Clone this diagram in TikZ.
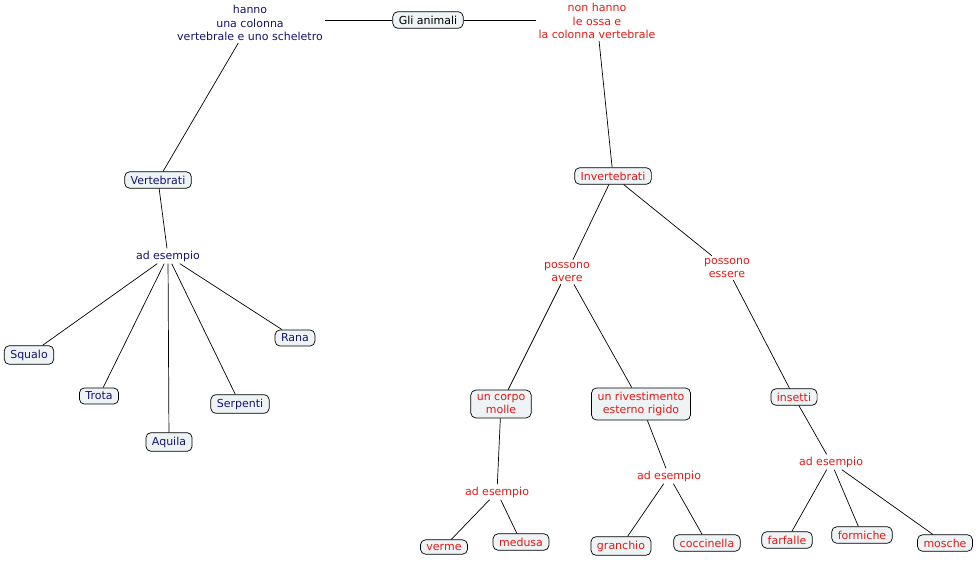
\documentclass[tikz,border=0pt]{standalone}
\usepackage{fontspec}
\setmainfont{DejaVu Sans}
\begin{document}
\begin{tikzpicture}[x=1pt,y=-1pt,
 every node/.style={font=\fontsize{11}{13.5}\selectfont,align=center,inner sep=2pt},
 box/.style={draw=black,fill={rgb,255:red,238;green,243;blue,246},rounded corners=5pt,inner xsep=6pt,inner ysep=4pt},
 nv/.style={text={rgb,255:red,20;green,20;blue,110}},
 rd/.style={text={rgb,255:red,230;green,25;blue,20}},
 every path/.style={line width=0.7pt}]
\useasboundingbox (0,0) rectangle (980,562);
\node[box] (gli) at (428,20) {Gli animali};
\node[nv] (hanno) at (250,23) {hanno\\una colonna\\vertebrale e uno scheletro};
\node[rd] (non) at (597,21) {non hanno\\le ossa e\\la colonna vertebrale};
\node[box,nv] (vert) at (158,180) {Vertebrati};
\node[nv] (ade1) at (168,256) {ad esempio};
\node[box,nv] (squalo) at (29,355) {Squalo};
\node[box,nv] (trota) at (99,396) {Trota};
\node[box,nv] (aquila) at (169,442) {Aquila};
\node[box,nv] (serp) at (240,404) {Serpenti};
\node[box,nv] (rana) at (295,338) {Rana};
\node[box,rd] (inv) at (613,176) {Invertebrati};
\node[rd] (pav) at (567,272) {possono\\avere};
\node[rd] (pes) at (727,268) {possono\\essere};
\node[box,rd] (molle) at (501,404) {un corpo\\molle};
\node[box,rd] (riv) at (641,404) {un rivestimento\\esterno rigido};
\node[box,rd] (ins) at (794,397) {insetti};
\node[rd] (ade2) at (497,492) {ad esempio};
\node[rd] (ade3) at (669,476) {ad esempio};
\node[rd] (ade4) at (831,462) {ad esempio};
\node[box,rd] (verme) at (444,547) {verme};
\node[box,rd] (medusa) at (521,542) {medusa};
\node[box,rd] (gran) at (621,546) {granchio};
\node[box,rd] (cocc) at (707,543) {coccinella};
\node[box,rd] (farf) at (787,540) {farfalle};
\node[box,rd] (form) at (862,535) {formiche};
\node[box,rd] (mosc) at (945,543) {mosche};
\draw (gli) -- (hanno.east|-gli) ;
\draw (gli) -- (non.west|-gli);
\draw (hanno) -- (vert);
\draw (vert) -- (ade1);
\foreach \n in {squalo,trota,aquila,serp,rana} \draw (ade1) -- (\n);
\draw (non) -- (inv);
\draw (inv) -- (pav); \draw (inv) -- (pes);
\draw (pav) -- (molle); \draw (pav) -- (riv);
\draw (pes) -- (ins);
\draw (molle) -- (ade2); \draw (riv) -- (ade3); \draw (ins) -- (ade4);
\draw (ade2) -- (verme); \draw (ade2) -- (medusa);
\draw (ade3) -- (gran); \draw (ade3) -- (cocc);
\draw (ade4) -- (farf); \draw (ade4) -- (form); \draw (ade4) -- (mosc);
\end{tikzpicture}
\end{document}
